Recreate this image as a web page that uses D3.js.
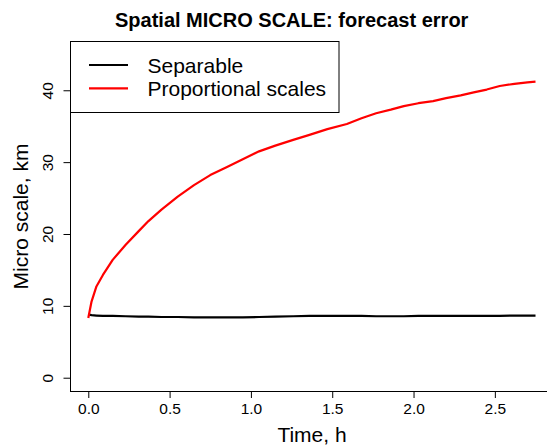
<!DOCTYPE html>
<html><head><meta charset="utf-8">
<script src="https://cdn.jsdelivr.net/npm/d3@7"></script>
<style>body{margin:0;background:#fff}svg{display:block;font-family:"Liberation Sans",Arial,sans-serif}</style>
</head><body><svg id="c" width="547" height="448"></svg>
<script>
const times = [0, 0.02, 0.05, 0.09, 0.15, 0.23, 0.31, 0.37, 0.45, 0.55, 0.65, 0.75, 0.85, 0.95, 1.05, 1.15, 1.26, 1.36, 1.47, 1.59, 1.68, 1.77, 1.86, 1.94, 2.03, 2.12, 2.2, 2.29, 2.37, 2.45, 2.53, 2.62, 2.7, 2.75];
const proportional = [8.3, 10.6, 12.7, 14.3, 16.4, 18.5, 20.4, 21.8, 23.4, 25.2, 26.8, 28.2, 29.3, 30.4, 31.5, 32.3, 33.1, 33.8, 34.6, 35.3, 36.1, 36.8, 37.3, 37.8, 38.2, 38.5, 38.9, 39.3, 39.7, 40.1, 40.6, 40.9, 41.1, 41.2];
const separable = [8.8, 8.7, 8.65, 8.6, 8.6, 8.55, 8.5, 8.5, 8.45, 8.45, 8.4, 8.4, 8.4, 8.4, 8.45, 8.5, 8.55, 8.6, 8.6, 8.6, 8.6, 8.55, 8.55, 8.55, 8.6, 8.6, 8.6, 8.6, 8.6, 8.6, 8.6, 8.65, 8.65, 8.65];
const xTicks = [0, 0.5, 1.0, 1.5, 2.0, 2.5];
const yTicks = [0, 10, 20, 30, 40];
const seriesNames = ["Separable", "Proportional scales"];
const seriesColors = ["#000000", "#ff0000"];

const svg = d3.select("#c");
const x = d3.scaleLinear().domain([-0.11, 2.86]).range([70.4, 553.4]);
const y = d3.scaleLinear().domain([-1.85, 46.76]).range([391, 41.7]);

// Title
svg.append("text").attr("x", 291.7).attr("y", 26.5).attr("text-anchor", "middle")
  .attr("font-size", 20).attr("font-weight", "bold").text("Spatial MICRO SCALE: forecast error");

// Lines
const line = d3.line().x((d, i) => x(times[i])).y(d => y(d));
[separable, proportional].forEach((s, k) => {
  svg.append("path").datum(s).attr("d", line).attr("fill", "none")
    .attr("stroke", seriesColors[k]).attr("stroke-width", 2.2).attr("stroke-linejoin", "round");
});

// Axes
const xAxis = svg.append("g").attr("transform", "translate(0,391)")
  .call(d3.axisBottom(x).tickValues(xTicks).tickFormat(d3.format(".1f")).tickSize(7).tickPadding(5));
xAxis.select(".domain").remove();
xAxis.selectAll("text").attr("font-size", 15.5).attr("fill", "#000").attr("font-family", "Liberation Sans, Arial, sans-serif");
xAxis.selectAll("line").attr("stroke", "#000");

const yAxis = svg.append("g").attr("transform", "translate(70.5,0)")
  .call(d3.axisLeft(y).tickValues(yTicks).tickFormat(d3.format("d")).tickSize(7).tickPadding(0));
yAxis.select(".domain").remove();
yAxis.selectAll("line").attr("stroke", "#000");
yAxis.selectAll("text").attr("font-size", 15.5).attr("fill", "#000").attr("font-family", "Liberation Sans, Arial, sans-serif")
  .attr("text-anchor", "middle").attr("dy", null).attr("x", 0).attr("y", 0)
  .attr("transform", "translate(-17.5,0) rotate(-90)");

// box lines (L-shape)
svg.append("line").attr("x1", 70.5).attr("x2", 70.5).attr("y1", 41.7).attr("y2", 391.5).attr("stroke", "#000");
svg.append("line").attr("x1", 70).attr("x2", 547).attr("y1", 391.5).attr("y2", 391.5).attr("stroke", "#000");

// Axis labels
svg.append("text").attr("x", 312).attr("y", 441.5).attr("text-anchor", "middle").attr("font-size", 21).text("Time, h");
svg.append("text").attr("transform", "translate(28,216.5) rotate(-90)").attr("text-anchor", "middle")
  .attr("font-size", 21).text("Micro scale, km");

// Legend
const lg = svg.append("g");
lg.append("rect").attr("x", 70.5).attr("y", 41.5).attr("width", 268.5).attr("height", 71)
  .attr("fill", "#fff").attr("stroke", "#000").attr("stroke-width", 1);
seriesNames.forEach((n, k) => {
  const yy = 65 + k * 23.3;
  lg.append("line").attr("x1", 89).attr("x2", 128).attr("y1", yy).attr("y2", yy)
    .attr("stroke", seriesColors[k]).attr("stroke-width", 2.2);
  lg.append("text").attr("x", 147.5).attr("y", yy + 7.7).attr("font-size", 21).text(n);
});
</script></body></html>
